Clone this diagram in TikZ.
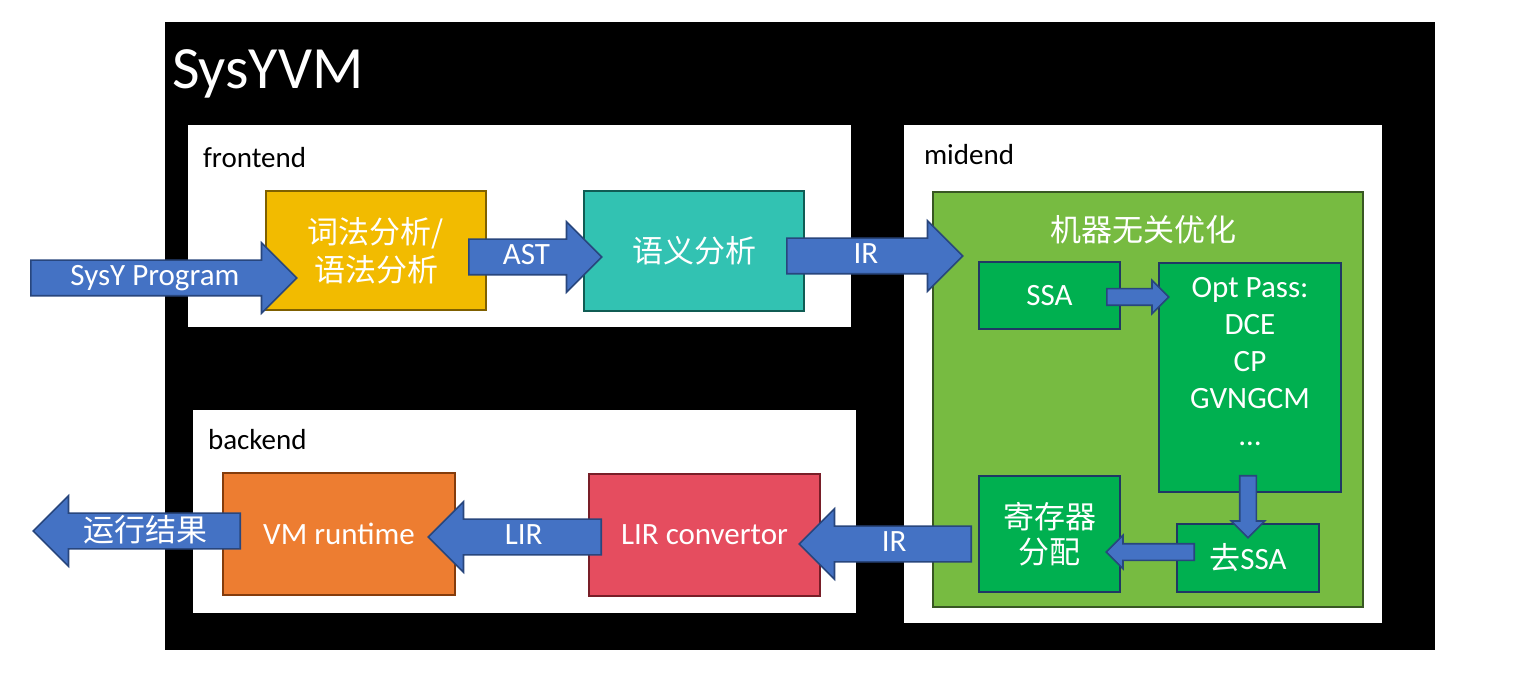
\documentclass[tikz,border=0pt]{standalone}
\usepackage{fontspec}
\setmainfont{Carlito}
\newfontfamily\cjk{Noto Sans CJK SC}
\usetikzlibrary{shapes.arrows}

\definecolor{lexfill}{RGB}{242,187,0}
\definecolor{lexline}{RGB}{127,96,0}
\definecolor{semafill}{RGB}{50,194,178}
\definecolor{semaline}{RGB}{16,92,84}
\definecolor{midfill}{RGB}{119,187,65}
\definecolor{midline}{RGB}{56,87,35}
\definecolor{passfill}{RGB}{0,176,80}
\definecolor{passline}{RGB}{31,56,100}
\definecolor{vmfill}{RGB}{237,125,49}
\definecolor{vmline}{RGB}{132,60,12}
\definecolor{lirfill}{RGB}{229,77,95}
\definecolor{lirline}{RGB}{120,30,40}
\definecolor{arrowfill}{RGB}{68,114,196}
\definecolor{arrowline}{RGB}{40,70,125}

\tikzset{
    box/.style={draw, line width=0.8pt, align=center, text=white, inner sep=0pt,
        font=\fontsize{15.5}{19}\selectfont},
    passbox/.style={box, fill=passfill, draw=passline},
    grouplabel/.style={anchor=west, font=\fontsize{14.5}{16}\selectfont},
    blockarrow/.style={single arrow, draw=arrowline, fill=arrowfill, line width=0.8pt,
        text=white, font=\fontsize{15.5}{18}\selectfont, text height=10.5pt, text depth=3pt,
        inner ysep=1.75pt, inner xsep=2pt, single arrow head extend=8.75pt,
        minimum width=0pt, anchor=tail},
    smallarrow/.style={single arrow, draw=arrowline, fill=arrowfill, line width=0.8pt,
        text height=0pt, text depth=0pt, inner sep=3.75pt,
        single arrow head extend=4.25pt, minimum width=0pt, anchor=tail}
}

\begin{document}
\begin{tikzpicture}[x=0.5pt,y=-0.5pt]
    \fill[white] (0,0) rectangle (1537,673);
    \useasboundingbox (0,0) rectangle (1537,673);

    % outer frame
    \fill[black] (165,22) rectangle (1435,650);
    \node[anchor=west, text=white, font=\fontsize{30}{34}\selectfont] (title) at (165,74) {SysYVM};

    % panels
    \fill[white] (188,125) rectangle (851,327);
    \node[grouplabel] (fe) at (196,158) {frontend};
    \fill[white] (904,125) rectangle (1382,623);
    \node[grouplabel] (me) at (917,155) {midend};
    \fill[white] (193,410) rectangle (856,613);
    \node[grouplabel] (be) at (201,440) {backend};

    % frontend
    \node[box, fill=lexfill, draw=lexline, minimum width=110pt, minimum height=59.5pt]
        (lex) at (376,250.5) {\cjk 词法分析/\\\cjk 语法分析};
    \node[box, fill=semafill, draw=semaline, minimum width=110pt, minimum height=60pt]
        (sema) at (694,251) {\cjk 语义分析};

    % midend
    \node[draw=midline, fill=midfill, line width=0.8pt, minimum width=215pt, minimum height=207.5pt,
        anchor=north west, inner sep=0pt] (opt) at (932,191) {};
    \node[text=white, font=\fontsize{15.5}{19}\cjk] (opttitle) at (1143,230) {机器无关优化};
    \node[passbox, minimum width=70.5pt, minimum height=33.5pt] (ssa) at (1049.5,295.5) {SSA};
    \node[passbox, minimum width=91pt, minimum height=114.5pt] (passes) at (1250,377.5) {};
    \node[align=center, text=white, font=\fontsize{15.5}{18.5}\selectfont] (passlist) at (1250,362)
        {Opt Pass:\\DCE\\CP\\GVNGCM\\…};
    \node[passbox, minimum width=70.5pt, minimum height=58pt, font=\fontsize{15.5}{17.5}\cjk]
        (regalloc) at (1049.5,534) {寄存器\\分配};
    \node[passbox, minimum width=71pt, minimum height=34pt] (dessa) at (1248,558) {{\cjk 去}SSA};

    % backend
    \node[box, fill=lirfill, draw=lirline, minimum width=115.5pt, minimum height=61pt]
        (lirconv) at (704.5,535) {LIR convertor};
    \node[box, fill=vmfill, draw=vmline, minimum width=116pt, minimum height=61pt]
        (vm) at (339,534) {VM runtime};

    % block arrows
    \node[blockarrow, minimum height=133pt] (progarrow) at (30,278) {SysY Program};
    \node[blockarrow, minimum height=66.5pt] (astarrow) at (468,257) {AST};
    \node[blockarrow, minimum height=88pt] (irarrow) at (786,256) {IR};
    \node[smallarrow, minimum height=31pt] (ssaarrow) at (1106,297) {};
    \node[smallarrow, minimum height=31pt, shape border rotate=270] (passarrow) at (1248,475) {};
    \node[smallarrow, minimum height=44pt, shape border rotate=180] (dessaarrow) at (1195,552) {};
    \node[blockarrow, minimum height=86pt, shape border rotate=180] (irbackarrow) at (972,544) {IR};
    \node[blockarrow, minimum height=86.5pt, shape border rotate=180] (lirarrow) at (602,537) {LIR};
    \node[blockarrow, minimum height=103.5pt, shape border rotate=180] (resultarrow) at (241,531)
        {\raisebox{-1.5pt}{\cjk 运行结果}};
\end{tikzpicture}
\end{document}
